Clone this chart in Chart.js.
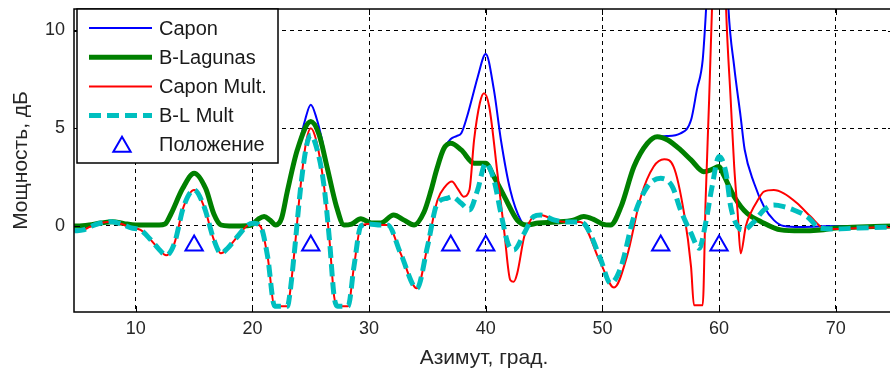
<!DOCTYPE html>
<html>
<head>
<meta charset="utf-8">
<script src="https://cdn.jsdelivr.net/npm/chart.js@4.4.0/dist/chart.umd.min.js"></script>
<style>
html, body { margin:0; padding:0; background:#fff; overflow:hidden; }
canvas { display:block; }
</style>
</head>
<body>
<canvas id="azimuth-chart" width="894" height="371"></canvas>
<script>
// оси
var xTicks = [10, 20, 30, 40, 50, 60, 70];
var yTicks = [0, 5, 10];

// Capon
var caponX = [4.7,5,6,7,8,9,10,11,12,12.5,13,14,15,16,16.7,17.3,18,19,19.9,20.5,21,21.5,22,22.5,23,24,24.5,25,25.5,26,26.4,27.2,27.85,28.5,29.3,30.2,31,32.1,33,33.85,34.7,35.3,35.8,36.4,37,37.5,37.9,38.4,38.9,39.3,40,40.7,41.3,42.1,43,43.5,44.5,46,47.5,48.4,49.2,50,50.7,51.6,52.7,53.85,54.7,55.5,56.7,57.6,58.1,58.6,58.9,59.5,60,60.5,60.8,61.3,61.85,62.2,63,63.85,64.7,65.55,67,70,75];
var caponY = [0,0,0.05,0.15,0.22,0.12,0.05,0.05,0.05,0.1,0.6,1.9,2.7,1.9,0.6,0.05,0,0,0.05,0.35,0.48,0.3,0.05,0.4,1.8,4.2,5.4,6.2,5.5,4.3,3.0,1.0,0.05,0.1,0.37,0.15,0.15,0.56,0.3,0.05,0.7,1.8,2.9,3.95,4.45,4.6,4.74,5.6,6.7,7.6,8.8,6.96,4.4,1.84,0.3,0.05,0.15,0.2,0.3,0.48,0.35,0.1,0.05,0.99,3.03,4.23,4.57,4.6,4.74,5.42,6.96,8.5,11.2,18,22,16,11.2,8.15,5.6,3.9,2.2,1.0,0.3,0,-0.05,0,0];

// B-Lagunas
var lagX = [4.7,5,6,7,8,9,10,11,12,12.5,13,14,15,16,16.7,17.3,18,19,19.9,20.5,21,21.5,22,22.5,23,23.85,25,25.7,26.4,27.2,27.85,28.5,29.3,30.2,31,32.1,33,33.85,34.7,35.3,35.8,36.4,37,37.9,39,40,40.7,41.6,42.7,43.5,44.5,46,47.5,48.4,49.2,50,50.7,51.6,52.7,53.85,54.7,55.6,56.7,57.6,58.7,59.3,60,60.4,61.3,62.4,63.6,65.3,67,68.7,70,72,75];
var lagY = [0,0,0.05,0.15,0.22,0.12,0.05,0.05,0.05,0.1,0.6,1.9,2.7,1.9,0.6,0.05,0,0,0.05,0.35,0.48,0.3,0.05,0.4,1.8,3.9,5.35,4.7,3.0,1.0,0.05,0.1,0.37,0.15,0.15,0.56,0.3,0.05,0.7,1.8,2.9,3.95,4.23,3.89,3.21,3.21,2.52,1.5,0.3,0.05,0.15,0.2,0.3,0.48,0.35,0.1,0.05,0.99,3.03,4.23,4.57,4.4,3.89,3.38,2.78,2.87,3.04,2.6,1.5,0.65,0.22,-0.2,-0.25,-0.2,-0.1,-0.05,0];

// Capon Mult.
var cmX = [4.7,5.5,6.1,7,7.9,8.8,9.6,10.4,11.3,12,12.6,13.3,14.1,15,15.85,16.7,17.3,17.85,18.7,19.6,20.1,20.7,21.3,21.9,23,23.2,23.6,24.1,24.6,25,25.5,26.1,26.6,27,27.3,28.2,28.7,29.3,29.9,31,31.6,32.7,34.1,35,35.85,36.5,37.1,37.6,38.1,38.6,39,39.5,39.85,40.3,41,41.6,42.1,42.4,42.7,43.3,44.1,44.7,45.9,47,48.1,49.85,51,52.1,53.3,54.4,55.3,56.1,57,57.6,57.85,58.6,58.85,59.15,59.4,60,60.6,61,61.3,61.6,61.85,62.3,62.7,63.3,63.85,64.7,65.55,66.7,67.85,69,70,72,75];
var cmY = [-0.25,-0.2,-0.03,0.15,0.22,0.1,-0.1,-0.2,-0.72,-1.2,-1.5,-0.9,0.99,1.84,0.99,-0.72,-1.4,-1.15,-0.55,0.05,0.14,-0.03,-1.57,-4.1,-4.1,-3.5,-1.3,1.9,4.3,5.0,4.3,2.2,-0.7,-3.6,-4.1,-4.1,-2.08,0,0.1,0.05,0.05,-1.4,-3.19,-1.06,1.3,2.0,2.27,1.9,1.5,1.84,4.4,6.3,6.79,6.1,2.7,-0.37,-2.76,-2.85,-2.42,-0.54,0.48,0.56,0.3,0.2,0.2,-1.9,-3.15,-1.57,1.5,3.04,3.41,3.04,0.65,-2.08,-4.05,-4.05,1.33,6.45,11.2,25,11.2,6.45,3.04,0.65,-1.4,0,0.65,1.3,1.76,1.84,1.67,1.16,0.48,-0.12,-0.15,-0.1,-0.05];

// B-L Mult
var blmX = [4.7,5.5,6.1,7,7.9,8.8,9.6,10.4,11.3,12,12.6,13.3,14.1,15,15.85,16.7,17.3,17.85,18.7,19.6,20.1,20.7,21.3,21.9,23,23.2,23.6,24.1,24.6,25,25.5,26.1,26.6,27,27.3,28.2,28.7,29.3,29.9,31,31.6,32.7,34.1,35,35.85,36.7,37.1,37.9,38.6,39.3,40,40.7,41.3,41.9,42.4,43.3,44.1,44.7,45.9,47,48.1,48.6,49.85,50.7,51.6,52.7,53.85,55,56,56.7,57.6,58.3,58.85,59.4,60,60.6,61,61.6,62.1,63,63.85,64.7,65.55,66.4,67.55,68.7,70,72,75];
var blmY = [-0.25,-0.2,-0.03,0.15,0.22,0.1,-0.1,-0.2,-0.72,-1.2,-1.5,-0.9,0.99,1.84,0.99,-0.72,-1.4,-1.15,-0.55,0.05,0.14,-0.03,-1.57,-4.1,-4.1,-3.5,-1.3,1.8,4.0,4.66,4.0,2.2,-0.7,-3.6,-4.1,-4.1,-2.08,0,0.1,0.05,0.05,-1.4,-3.19,-1.06,1.16,1.42,1.5,1.16,0.82,1.84,3.21,2.35,0.65,-0.89,-1.23,-0.37,0.48,0.56,0.3,0.2,0.2,0,-1.7,-2.93,-2.08,0.48,2.01,2.44,2.01,0.82,-0.37,-1.14,0.14,2.01,3.55,2.7,0.99,-0.03,-0.2,0.22,0.82,1.07,0.99,0.82,0.48,-0.12,-0.15,-0.1,-0.05];

// Положение
var posX = [15, 25, 37, 40, 55, 60];
var posY = [-1, -1, -1, -1, -1, -1];

function pts(xs, ys) {
	return xs.map(function(v, i) { return {x: v, y: ys[i]}; });
}

Chart.defaults.font.family = '"Liberation Sans", Arial, sans-serif';
Chart.defaults.color = '#262626';

/* рамка, засечки внутрь и легенда как в matlab */
var matlabBox = {
	id: 'matlabBox',
	afterDatasetsDraw: function(chart) {
		var ctx = chart.ctx, a = chart.chartArea;
		var sx = chart.scales.x, sy = chart.scales.y;
		ctx.save();
		ctx.setLineDash([]);
		ctx.strokeStyle = '#000';
		ctx.lineWidth = 1.5;
		ctx.strokeRect(a.left, a.top, a.right - a.left, a.bottom - a.top);
		ctx.lineWidth = 1;
		ctx.beginPath();
		sx.ticks.forEach(function(t) {
			var px = Math.round(sx.getPixelForValue(t.value)) + 0.5;
			ctx.moveTo(px, a.bottom); ctx.lineTo(px, a.bottom - 6);
			ctx.moveTo(px, a.top); ctx.lineTo(px, a.top + 6);
		});
		sy.ticks.forEach(function(t) {
			var py = Math.round(sy.getPixelForValue(t.value)) + 0.5;
			ctx.moveTo(a.left, py); ctx.lineTo(a.left + 6, py);
			ctx.moveTo(a.right, py); ctx.lineTo(a.right - 6, py);
		});
		ctx.stroke();

		// легенда
		var bx = a.left + 3, by = a.top, bw = 201, bh = 154;
		ctx.fillStyle = '#fff';
		ctx.fillRect(bx, by, bw, bh);
		ctx.strokeStyle = '#000';
		ctx.lineWidth = 1.5;
		ctx.strokeRect(bx, by, bw, bh);
		ctx.font = '20px "Liberation Sans", Arial, sans-serif';
		ctx.textBaseline = 'middle';
		chart.data.datasets.forEach(function(ds, i) {
			var cy = by + 19 + i * 29.2;
			ctx.strokeStyle = ds.borderColor;
			ctx.lineWidth = ds.borderWidth;
			ctx.setLineDash(ds.borderDash || []);
			if (ds.showLine === false) {
				ctx.setLineDash([]);
				ctx.fillStyle = 'rgba(0,0,0,0)';
				Chart.helpers.drawPoint(ctx, {pointStyle: 'triangle', radius: ds.pointRadius, borderWidth: ds.borderWidth}, bx + 45, cy + 2);
			} else {
				ctx.beginPath();
				ctx.moveTo(bx + 12, cy);
				ctx.lineTo(bx + 75, cy);
				ctx.stroke();
			}
			ctx.setLineDash([]);
			ctx.fillStyle = '#1a1a1a';
			ctx.fillText(ds.label, bx + 82, cy + 1);
		});
		ctx.restore();
	}
};

new Chart(document.getElementById('azimuth-chart'), {
	type: 'line',
	data: {
		datasets: [{
			label: 'Capon',
			data: pts(caponX, caponY),
			borderColor: '#0000ff',
			borderWidth: 2,
			order: 5
		}, {
			label: 'B-Lagunas',
			data: pts(lagX, lagY),
			borderColor: '#008000',
			borderWidth: 5,
			order: 4
		}, {
			label: 'Capon Mult.',
			data: pts(cmX, cmY),
			borderColor: '#ff0000',
			borderWidth: 2,
			order: 3
		}, {
			label: 'B-L Mult',
			data: pts(blmX, blmY),
			borderColor: '#00bfbf',
			borderWidth: 5,
			borderDash: [12, 6],
			order: 2
		}, {
			label: 'Положение',
			data: pts(posX, posY),
			showLine: false,
			borderColor: '#0000ff',
			backgroundColor: 'rgba(0,0,0,0)',
			pointBorderColor: '#0000ff',
			pointBackgroundColor: 'rgba(0,0,0,0)',
			borderWidth: 2,
			pointBorderWidth: 2,
			pointStyle: 'triangle',
			pointRadius: 10,
			pointHoverRadius: 10,
			order: 1
		}]
	},
	options: {
		animation: false,
		responsive: false,
		devicePixelRatio: 1,
		elements: {
			point: { radius: 0 },
			line: { cubicInterpolationMode: 'monotone', fill: false }
		},
		layout: { autoPadding: false, padding: { top: 9, left: 0, right: 0, bottom: 0 } },
		plugins: {
			legend: { display: false },
			tooltip: { enabled: false }
		},
		scales: {
			x: {
				type: 'linear',
				min: 4.7,
				max: 75,
				afterBuildTicks: function(s) { s.ticks = xTicks.map(function(v) { return {value: v}; }); },
				afterFit: function(s) { s.height = 59; s.paddingLeft = 0; s.paddingRight = 0; },
				ticks: { font: { size: 18 }, padding: 6, maxRotation: 0, color: '#262626' },
				grid: { color: '#000', lineWidth: 1, drawTicks: false },
				border: { display: false, dash: [4, 4] },
				title: { display: true, text: 'Азимут, град.', font: { size: 21 }, padding: { top: 0, bottom: 0 }, color: '#262626' }
			},
			y: {
				min: -4.4,
				max: 11.1,
				afterBuildTicks: function(s) { s.ticks = yTicks.map(function(v) { return {value: v}; }); },
				afterFit: function(s) { s.width = 74; s.paddingTop = 0; s.paddingBottom = 0; },
				ticks: { font: { size: 18 }, padding: 9, color: '#262626' },
				grid: { color: '#000', lineWidth: 1, drawTicks: false },
				border: { display: false, dash: [4, 4] },
				title: { display: true, text: 'Мощность, дБ', font: { size: 21 }, padding: { top: 9, bottom: 0 }, color: '#262626' }
			}
		}
	},
	plugins: [matlabBox]
});
</script>
</body>
</html>
